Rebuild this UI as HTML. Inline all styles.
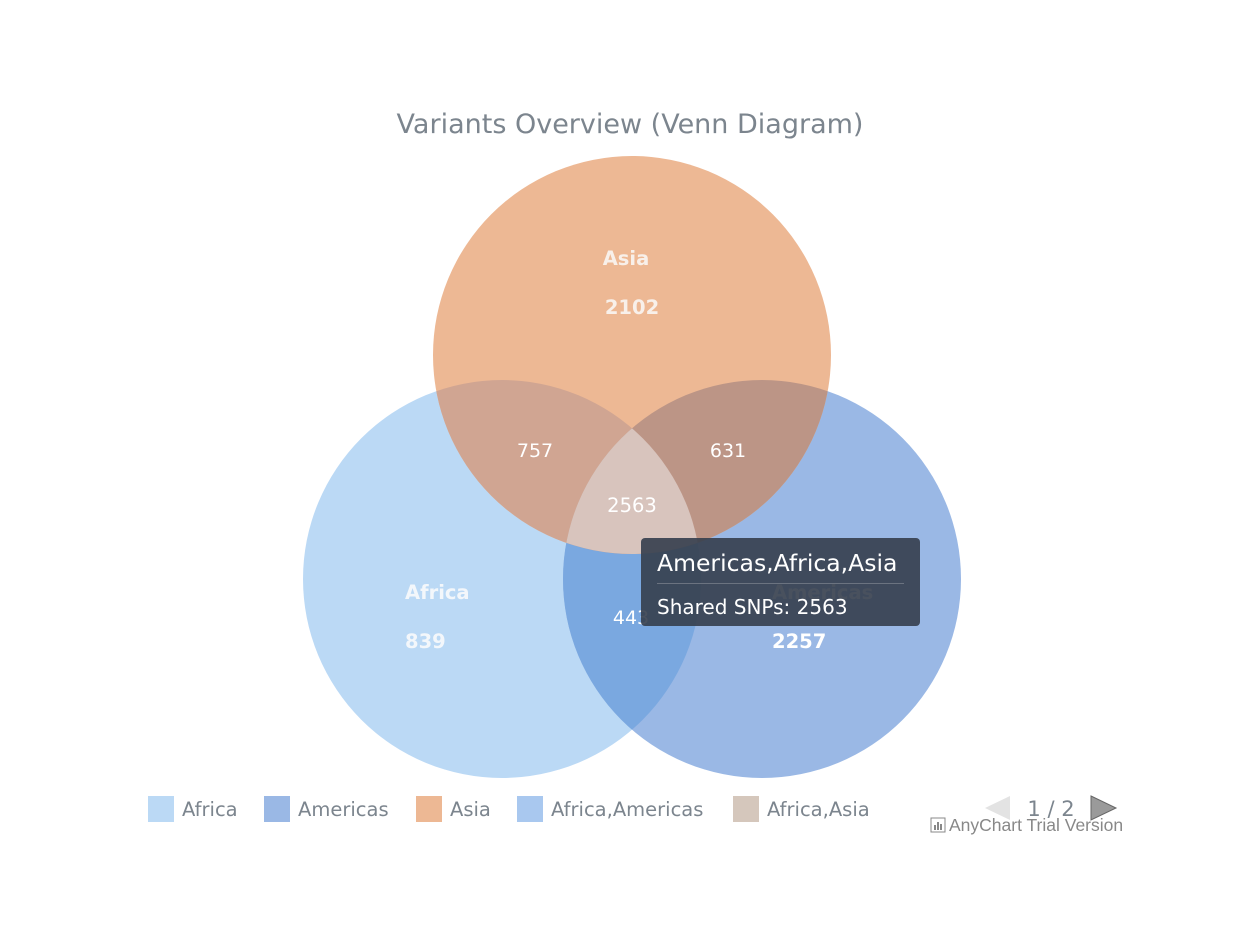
<!DOCTYPE html>
<html><head><meta charset="utf-8"><style>
html,body{margin:0;padding:0;background:#fff;}
svg{display:block;font-family:"DejaVu Sans",sans-serif;}
</style></head><body>
<svg width="1238" height="942" viewBox="0 0 1238 942">
<defs>
<clipPath id="cAf"><circle cx="502" cy="579" r="199"/></clipPath>
<clipPath id="cAm"><circle cx="762" cy="579" r="199"/></clipPath>
</defs>
<text x="630" y="133" text-anchor="middle" font-size="27" fill="#7c858e">Variants Overview (Venn Diagram)</text>
<circle cx="502" cy="579" r="199" fill="#bbd9f5"/>
<circle cx="762" cy="579" r="199" fill="#9ab8e5"/>
<circle cx="632" cy="355" r="199" fill="#edb894"/>
<g clip-path="url(#cAf)"><circle cx="762" cy="579" r="199" fill="#7aa8e0"/></g>
<g clip-path="url(#cAf)"><circle cx="632" cy="355" r="199" fill="#d0a592"/></g>
<g clip-path="url(#cAm)"><circle cx="632" cy="355" r="199" fill="#bc9586"/></g>
<g clip-path="url(#cAf)"><g clip-path="url(#cAm)"><circle cx="632" cy="355" r="199" fill="#d8c4bd"/></g></g>
<g fill="#fff" font-size="19.5">
<text x="626" y="265" text-anchor="middle" font-weight="bold" fill="#f8f0ea">Asia</text>
<text x="632" y="314" text-anchor="middle" font-weight="bold" fill="#f8f0ea">2102</text>
<text x="405" y="599" font-weight="bold" fill="#f3f7fb">Africa</text>
<text x="405" y="648" font-weight="bold" fill="#f3f7fb">839</text>
<text x="772" y="599" font-weight="bold">Americas</text>
<text x="772" y="648" font-weight="bold">2257</text>
<text x="535" y="457" text-anchor="middle" font-size="19">757</text>
<text x="728" y="457" text-anchor="middle" font-size="19">631</text>
<text x="632" y="512" text-anchor="middle" font-size="19.5">2563</text>
<text x="631" y="624" text-anchor="middle" font-size="19">443</text>
</g>
<rect x="641" y="538" width="279" height="88" rx="4" fill="#353e4d" fill-opacity="0.9"/>
<text x="657" y="571" font-size="23.5" fill="#fff">Americas,Africa,Asia</text>
<line x1="657" y1="583.5" x2="904" y2="583.5" stroke="#6b7380" stroke-width="1"/>
<text x="657" y="614" font-size="20" fill="#fff">Shared SNPs: 2563</text>
<g font-size="19.5" fill="#7c858e">
<rect x="148" y="796" width="26" height="26" fill="#bbd9f5"/><text x="182" y="816">Africa</text>
<rect x="264" y="796" width="26" height="26" fill="#9ab8e5"/><text x="298" y="816">Americas</text>
<rect x="416" y="796" width="26" height="26" fill="#edb894"/><text x="450" y="816">Asia</text>
<rect x="517" y="796" width="26" height="26" fill="#a9c8ef"/><text x="551" y="816">Africa,Americas</text>
<rect x="733" y="796" width="26" height="26" fill="#d5c7bc"/><text x="767" y="816">Africa,Asia</text>
<polygon points="985,808 1010,796 1010,820" fill="#e3e3e3"/>
<text x="1051" y="816" text-anchor="middle" font-size="21">1 / 2</text>
<polygon points="1091,796 1116,808 1091,820" fill="#9a9a9a" stroke="#666" stroke-width="1"/>
</g>
<rect x="931" y="818" width="14" height="14" fill="none" stroke="#888" stroke-width="1"/>
<rect x="934" y="825" width="2" height="5" fill="#888"/><rect x="937" y="822" width="2" height="8" fill="#888"/><rect x="940" y="824" width="2" height="6" fill="#888"/>
<text x="949" y="831" font-size="17.5" fill="#888" font-family="Liberation Sans, sans-serif">AnyChart Trial Version</text>
</svg>
</body></html>
